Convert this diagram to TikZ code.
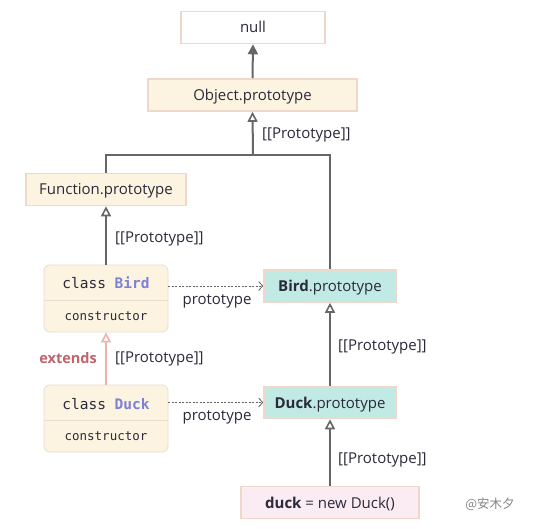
\documentclass[tikz,border=0pt]{standalone}
\usepackage{fontspec}
\setmainfont{Open Sans}
\setmonofont{DejaVu Sans Mono}
\newfontfamily\cjkfont{Noto Sans CJK SC}
\usetikzlibrary{arrows.meta,calc}
\definecolor{txt}{HTML}{2A2A3A}
\definecolor{ln}{HTML}{666666}
\definecolor{cream}{HTML}{FCF4E0}
\definecolor{creamb}{HTML}{EED8CC}
\definecolor{teal}{HTML}{C0EAE3}
\definecolor{pinkf}{HTML}{FBEBF3}
\definecolor{clsb}{HTML}{E6DECF}
\definecolor{kw}{HTML}{7B80DA}
\definecolor{ext}{HTML}{C0646E}
\definecolor{extl}{HTML}{F0B0B0}
\tikzset{
  box/.style={draw=creamb, line width=1.6pt, minimum height=32pt, text=txt, font=\fontsize{15}{17}\selectfont, inner sep=0pt, text height=11pt, text depth=0pt},
  clsbox/.style={draw=clsb, line width=0.8pt, fill=cream, rounded corners=6pt, minimum width=124pt, minimum height=67pt, inner sep=0pt},
  proto/.style={draw=ln, line width=2pt, -{Triangle[open, length=10pt, width=10pt, line width=1.6pt]}},
  protoline/.style={draw=ln, line width=2pt},
  filled/.style={draw=ln, line width=2pt, -{Triangle[length=10pt, width=10pt]}},
  dotarr/.style={draw=ln, line width=0.8pt, dash pattern=on 2pt off 1.5pt, -{Straight Barb[length=4pt, width=9pt, line width=0.8pt]}},
  lbl/.style={text=txt, font=\fontsize{15}{17}\selectfont, inner sep=0pt},
  code/.style={font=\ttfamily\fontsize{14.5}{16}\selectfont, text=txt, inner sep=0pt},
  codes/.style={font=\ttfamily\fontsize{12.5}{15}\selectfont, text=txt, inner sep=0pt}
}
\begin{document}
\begin{tikzpicture}[x=1pt, y=-1pt]
\useasboundingbox[fill=white] (0,0) rectangle (533,529);
% nodes
\node[box, fill=white, minimum width=144pt] (null) at (253,27.5) {null};
\node[box, fill=cream, minimum width=209pt] (obj) at (252.5,95) {Object.prototype};
\node[box, fill=cream, minimum width=160pt] (fun) at (106,189.5) {Function.prototype};
\node[box, fill=teal, minimum width=132pt] (bp) at (330,286) {\textbf{Bird}.prototype};
\node[box, fill=teal, minimum width=132pt] (dp) at (330,402.5) {\textbf{Duck}.prototype};
\node[box, fill=pinkf, minimum width=178pt] (duck) at (330,502.5) {\textbf{duck} = new Duck()};
% classes
\node[clsbox] (bird) at (106,298.5) {};
\draw[clsb, line width=0.8pt] (bird.west |- 0,300) -- (bird.east |- 0,300);
\node[code] (birdt) at (106,283) {class \textcolor{kw}{\textbf{Bird}}};
\node[codes] (birdc) at (106,316.5) {constructor};
\node[clsbox] (duckc) at (106,418.5) {};
\draw[clsb, line width=0.8pt] (duckc.west |- 0,420) -- (duckc.east |- 0,420);
\node[code] (duckt) at (106,404) {class \textcolor{kw}{\textbf{Duck}}};
\node[codes] (duckcc) at (106,436.5) {constructor};
% connectors
\draw[filled] (obj.north) -- (null.south);
\coordinate (jn) at (253,155);
\draw[protoline] (fun.north) |- (jn);
\draw[protoline] (bp.north) |- (jn);
\draw[proto] (jn) -- (obj.south);
\node[lbl, anchor=west] (l1) at (262,135) {[[Prototype]]};
\draw[proto] (bird.north) -- (fun.south);
\node[lbl, anchor=west] (l2) at (115,239) {[[Prototype]]};
\draw[draw=extl, line width=2pt, -{Triangle[open, length=10pt, width=10pt, line width=1.6pt]}] (duckc.north) -- (bird.south);
\node[lbl, anchor=west] (l3) at (115,359) {[[Prototype]]};
\node[anchor=east, inner sep=0pt, text=ext, font=\bfseries\fontsize{14.5}{16}\selectfont] (ex) at (97,358) {extends};
\draw[proto] (dp.north) -- (bp.south);
\node[lbl, anchor=west] (l4) at (338,347) {[[Prototype]]};
\draw[proto] (duck.north) -- (dp.south);
\node[lbl, anchor=west] (l5) at (338,460) {[[Prototype]]};
\draw[dotarr] (bird.east |- 0,286) -- (bp.west);
\node[lbl] (p1) at (217,301) {prototype};
\draw[dotarr] (duckc.east |- 0,402.5) -- (dp.west);
\node[lbl] (p2) at (217,417) {prototype};
\node[inner sep=0pt, text=ln!80, font=\cjkfont\fontsize{12.5}{14}\selectfont] (wm) at (490,504) {@安木夕};
\end{tikzpicture}
\end{document}
